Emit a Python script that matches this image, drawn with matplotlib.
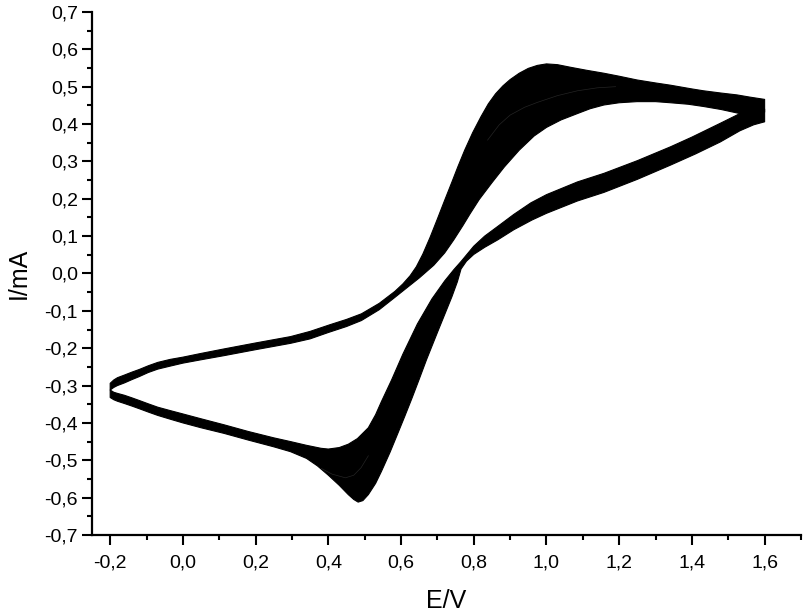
import matplotlib
matplotlib.use("Agg")
import matplotlib.pyplot as plt
import numpy as np

# ---- data: envelope of the overlapping CV cycles (E in V, I in mA) ----
# forward (anodic) scan band: outer (upper) edge
fwd_outer_E = [-0.200, -0.190, -0.180, -0.161, -0.140, -0.120, -0.095, -0.069, -0.035, 0.000,
               0.050, 0.113, 0.200, 0.296, 0.350, 0.405, 0.450, 0.491, 0.540, 0.583,
               0.605, 0.625, 0.642, 0.660, 0.680, 0.700, 0.720, 0.740, 0.756, 0.775,
               0.797, 0.820, 0.840, 0.860, 0.880, 0.900, 0.925, 0.950, 0.975, 1.000,
               1.030, 1.066, 1.110, 1.158, 1.200, 1.249, 1.300, 1.341, 1.400, 1.432,
               1.480, 1.524, 1.560, 1.600]
fwd_outer_I = [-0.294, -0.285, -0.279, -0.272, -0.264, -0.257, -0.247, -0.238, -0.230, -0.224,
               -0.214, -0.202, -0.186, -0.169, -0.155, -0.137, -0.123, -0.108, -0.080, -0.048,
               -0.028, -0.006, 0.018, 0.052, 0.097, 0.146, 0.196, 0.245, 0.285, 0.330,
               0.377, 0.420, 0.454, 0.481, 0.502, 0.519, 0.536, 0.549, 0.557, 0.561,
               0.559, 0.552, 0.544, 0.536, 0.528, 0.518, 0.510, 0.504, 0.494, 0.489,
               0.483, 0.478, 0.472, 0.466]
# forward scan band: inner (lower) edge
fwd_inner_E = [-0.200, -0.190, -0.180, -0.161, -0.140, -0.120, -0.095, -0.069, -0.035, 0.000,
               0.050, 0.113, 0.200, 0.296, 0.350, 0.400, 0.450, 0.491, 0.540, 0.583,
               0.619, 0.650, 0.690, 0.720, 0.745, 0.770, 0.790, 0.815, 0.850, 0.884,
               0.925, 0.966, 1.000, 1.040, 1.085, 1.120, 1.158, 1.200, 1.249, 1.300,
               1.341, 1.390, 1.432, 1.480, 1.532, 1.570, 1.600]
fwd_inner_I = [-0.312, -0.305, -0.300, -0.293, -0.284, -0.276, -0.265, -0.256, -0.248, -0.240,
               -0.231, -0.220, -0.204, -0.187, -0.175, -0.158, -0.142, -0.126, -0.097, -0.064,
               -0.036, -0.012, 0.022, 0.055, 0.090, 0.128, 0.160, 0.198, 0.243, 0.285,
               0.330, 0.368, 0.391, 0.411, 0.428, 0.441, 0.451, 0.457, 0.460, 0.460,
               0.457, 0.453, 0.447, 0.439, 0.428, 0.430, 0.432]
# reverse (cathodic) scan band: outer (lower) edge
rev_outer_E = [-0.200, -0.190, -0.180, -0.161, -0.140, -0.120, -0.095, -0.069, -0.035, 0.000,
               0.050, 0.113, 0.180, 0.250, 0.296, 0.340, 0.370, 0.400, 0.430, 0.455,
               0.470, 0.482, 0.495, 0.510, 0.530, 0.546, 0.570, 0.592, 0.610, 0.630,
               0.650, 0.670, 0.700, 0.720, 0.740, 0.755, 0.765, 0.780, 0.800, 0.830,
               0.866, 0.910, 0.960, 1.000, 1.085, 1.158, 1.250, 1.341, 1.410, 1.478,
               1.532, 1.570, 1.600]
rev_outer_I = [-0.332, -0.338, -0.342, -0.348, -0.355, -0.362, -0.371, -0.380, -0.390, -0.400,
               -0.413, -0.428, -0.446, -0.464, -0.477, -0.495, -0.515, -0.540, -0.567, -0.592,
               -0.605, -0.612, -0.608, -0.592, -0.562, -0.530, -0.478, -0.426, -0.383, -0.334,
               -0.283, -0.231, -0.158, -0.110, -0.062, -0.022, 0.012, 0.033, 0.051, 0.070,
               0.090, 0.117, 0.143, 0.161, 0.194, 0.217, 0.252, 0.290, 0.320, 0.352,
               0.382, 0.398, 0.406]
# reverse scan band: inner (upper) edge
rev_inner_E = [-0.200, -0.190, -0.180, -0.161, -0.140, -0.120, -0.095, -0.069, -0.035, 0.000,
               0.050, 0.113, 0.180, 0.250, 0.296, 0.340, 0.380, 0.400, 0.430, 0.455,
               0.480, 0.510, 0.530, 0.546, 0.574, 0.605, 0.645, 0.685, 0.720, 0.745,
               0.765, 0.800, 0.830, 0.866, 0.910, 0.957, 1.000, 1.085, 1.158, 1.250,
               1.341, 1.400, 1.478, 1.532, 1.570, 1.600]
rev_inner_I = [-0.312, -0.318, -0.321, -0.326, -0.333, -0.340, -0.349, -0.358, -0.367, -0.376,
               -0.389, -0.405, -0.423, -0.440, -0.450, -0.460, -0.468, -0.470, -0.466, -0.457,
               -0.442, -0.413, -0.378, -0.343, -0.285, -0.216, -0.135, -0.068, -0.020, 0.010,
               0.032, 0.073, 0.100, 0.126, 0.158, 0.189, 0.211, 0.245, 0.268, 0.302,
               0.339, 0.365, 0.402, 0.428, 0.437, 0.440]
# faint lighter trace of one cycle visible inside the bands
streak_fwd_E = [0.838, 0.870, 0.900, 0.940, 0.975, 1.030, 1.085, 1.140, 1.190]
streak_fwd_I = [0.357, 0.398, 0.424, 0.445, 0.458, 0.476, 0.489, 0.497, 0.500]
streak_rev_E = [0.381, 0.410, 0.447, 0.470, 0.490, 0.510]
streak_rev_I = [-0.522, -0.537, -0.547, -0.540, -0.520, -0.488]

x_ticks = [-0.2, 0.0, 0.2, 0.4, 0.6, 0.8, 1.0, 1.2, 1.4, 1.6]
x_tick_labels = ["-0,2", "0,0", "0,2", "0,4", "0,6", "0,8", "1,0", "1,2", "1,4", "1,6"]
y_ticks = [-0.7, -0.6, -0.5, -0.4, -0.3, -0.2, -0.1, 0.0, 0.1, 0.2, 0.3, 0.4, 0.5, 0.6, 0.7]
y_tick_labels = ["-0,7", "-0,6", "-0,5", "-0,4", "-0,3", "-0,2", "-0,1", "0,0",
                 "0,1", "0,2", "0,3", "0,4", "0,5", "0,6", "0,7"]
x_label = "E/V"
y_label = "I/mA"

plt.rcParams['font.family'] = ['Liberation Sans', 'DejaVu Sans']

fig = plt.figure(figsize=(8.05, 6.14), dpi=100)
ax = fig.add_axes([0.1143, 0.1287, 0.8807, 0.8518])

def band(E_a, I_a, E_b, I_b):
    xs = np.concatenate([np.asarray(E_a), np.asarray(E_b)[::-1]])
    ys = np.concatenate([np.asarray(I_a), np.asarray(I_b)[::-1]])
    ax.fill(xs, ys, facecolor='black', edgecolor='black', linewidth=0.8,
            joinstyle='round')

band(fwd_outer_E, fwd_outer_I, fwd_inner_E, fwd_inner_I)
band(rev_outer_E, rev_outer_I, rev_inner_E, rev_inner_I)
ax.plot(streak_fwd_E, streak_fwd_I, color='#3c3c3c', lw=0.5, alpha=0.6)
ax.plot(streak_rev_E, streak_rev_I, color='#3c3c3c', lw=0.5, alpha=0.6)

ax.set_xlim(-0.25, 1.7)
ax.set_ylim(-0.7, 0.7)
ax.set_xticks(x_ticks)
ax.set_xticklabels(x_tick_labels)
ax.set_yticks(y_ticks)
ax.set_yticklabels(y_tick_labels)
ax.set_xticks(np.arange(-0.1, 1.75, 0.2), minor=True)
ax.set_yticks(np.arange(-0.65, 0.7, 0.1), minor=True)

for s in ['top', 'right']:
    ax.spines[s].set_visible(False)
for s in ['left', 'bottom']:
    ax.spines[s].set_linewidth(1.6)
ax.tick_params(axis='both', which='major', direction='out', length=7, width=1.5,
               labelsize=14, colors='black')
ax.tick_params(axis='both', which='minor', direction='out', length=3.5, width=1.5)
ax.tick_params(axis='x', which='major', pad=7)
ax.tick_params(axis='y', which='major', pad=3)

ax.set_xlabel(x_label, fontsize=18, labelpad=13)
ax.set_ylabel(y_label, fontsize=18, labelpad=10)

fig.savefig("out.png", dpi=100)
